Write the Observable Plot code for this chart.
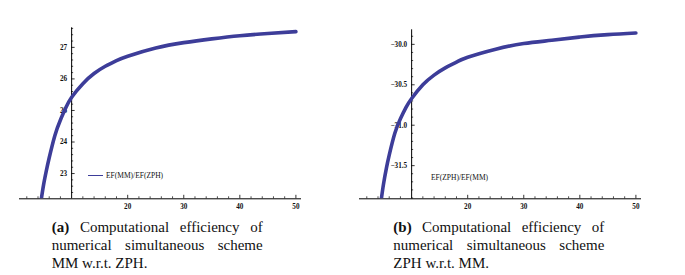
<!DOCTYPE html>
<html><head><meta charset="utf-8">
<script src="https://cdn.jsdelivr.net/npm/d3@7"></script>
<script src="https://cdn.jsdelivr.net/npm/@observablehq/plot@0.6"></script>
<style>
body{margin:0;background:#fff;}
#wrap{position:relative;width:685px;height:275px;overflow:hidden;background:#fff;}
.panel{position:absolute;top:0;}
.cap{position:absolute;top:217.5px;width:211px;font-family:"Liberation Serif",serif;font-size:15px;line-height:18.3px;color:#111;}
.cap .j{text-align:justify;text-align-last:justify;}
.leg{position:absolute;font-family:"Liberation Serif",serif;font-size:7.5px;line-height:1;color:#111;white-space:nowrap;}
.sw{position:absolute;height:0;border-top:1.2px solid #3d3d99;}
</style></head><body>
<div id="wrap">
  <div id="pa" class="panel" style="left:0px"></div>
  <div id="pb" class="panel" style="left:340px"></div>
  <div class="sw" style="left:88px;top:175px;width:15px"></div>
  <div class="leg" style="left:106px;top:172px">EF(MM)/EF(ZPH)</div>
  <div class="leg" style="left:431px;top:173.5px">EF(ZPH)/EF(MM)</div>
  <div class="cap" style="left:51.7px">
    <div class="j"><b>(a)</b>&nbsp;Computational efficiency of</div>
    <div class="j">numerical simultaneous scheme</div>
    <div>MM w.r.t. ZPH.</div>
  </div>
  <div class="cap" style="left:393.3px">
    <div class="j"><b>(b)</b>&nbsp;Computational efficiency of</div>
    <div class="j">numerical simultaneous scheme</div>
    <div>ZPH w.r.t. MM.</div>
  </div>
</div>
<script>
// Panel (a): EF(MM)/EF(ZPH)
const nA   = [4.6, 5, 5.5, 6, 7, 8, 9, 10, 12, 14, 16, 18, 20, 25, 30, 35, 40, 45, 50];
const effA = [22.2, 22.65, 23.1, 23.5, 24.2, 24.7, 25.1, 25.42, 25.85, 26.17, 26.40, 26.58, 26.72, 26.98, 27.15, 27.27, 27.37, 27.44, 27.5];
// Panel (b): EF(ZPH)/EF(MM)
const nB   = [4.6, 5, 5.5, 6, 7, 8, 9, 10, 12, 14, 16, 18, 20, 25, 30, 35, 40, 45, 50];
const effB = [-31.91, -31.72, -31.53, -31.37, -31.1, -30.92, -30.78, -30.67, -30.5, -30.38, -30.29, -30.22, -30.16, -30.06, -29.99, -29.95, -29.91, -29.88, -29.86];

const xMajor = [20, 30, 40, 50];
const xMinor = d3.range(1, 26).map(k => 2 * k).filter(v => v % 10 !== 0);
const yMajorA = [23, 24, 25, 26, 27];
const yMinorA = d3.range(112, 139).map(k => k / 5).filter(v => Math.abs(v - Math.round(v)) > 1e-6);
const yMajorB = [-31.5, -31, -30.5, -30];
const yMinorB = d3.range(-319, -298).map(k => k / 10).filter(v => Math.abs(v * 2 - Math.round(v * 2)) > 1e-6);

const xDomain = [0.7, 51];
const crossX = 10;

function panel(n, eff, yDom, yMajor, yMinor, fmt, marginTop) {
  const data = n.map((v, i) => ({n: v, e: eff[i]}));
  const tf = {fontFamily: "Liberation Serif", fontSize: 7.2, fontWeight: "bold", fill: "#111"};
  return Plot.plot({
    width: 320, height: 212,
    marginLeft: 19, marginRight: 19, marginTop, marginBottom: 13.7,
    x: {domain: xDomain, axis: null},
    y: {domain: yDom, axis: null},
    style: {background: "transparent", overflow: "visible"},
    marks: [
      Plot.ruleY([yDom[0]], {stroke: "#000", strokeWidth: 1}),
      Plot.ruleX([crossX], {stroke: "#000", strokeWidth: 1}),
      Plot.ruleX(xMinor, {x: d => d, y1: yDom[0], y2: yDom[0], insetTop: -2, stroke: "#000", strokeWidth: 0.7}),
      Plot.ruleX(xMajor, {x: d => d, y1: yDom[0], y2: yDom[0], insetTop: -3.5, stroke: "#000", strokeWidth: 0.8}),
      Plot.ruleY(yMinor, {y: d => d, x1: crossX, x2: crossX, insetRight: -2, stroke: "#000", strokeWidth: 0.7}),
      Plot.ruleY(yMajor, {y: d => d, x1: crossX, x2: crossX, insetRight: -3.5, stroke: "#000", strokeWidth: 0.8}),
      Plot.text(xMajor, {x: d => d, y: yDom[0], dy: 7.5, text: d => String(d), ...tf}),
      Plot.text(yMajor, {x: crossX, y: d => d, dx: -4.5, textAnchor: "end", text: fmt, ...tf}),
      Plot.line(data, {x: "n", y: "e", curve: "natural", stroke: "#3d3d99", strokeWidth: 3.6, clip: true})
    ]
  });
}

document.getElementById("pa").append(panel(nA, effA, [22.2, 27.62], yMajorA, yMinorA, d => String(d), 27.3));
document.getElementById("pb").append(panel(nB, effB, [-31.91, -29.82], yMajorB, yMinorB, d3.format(".1f"), 29.3));
</script>
</body></html>
